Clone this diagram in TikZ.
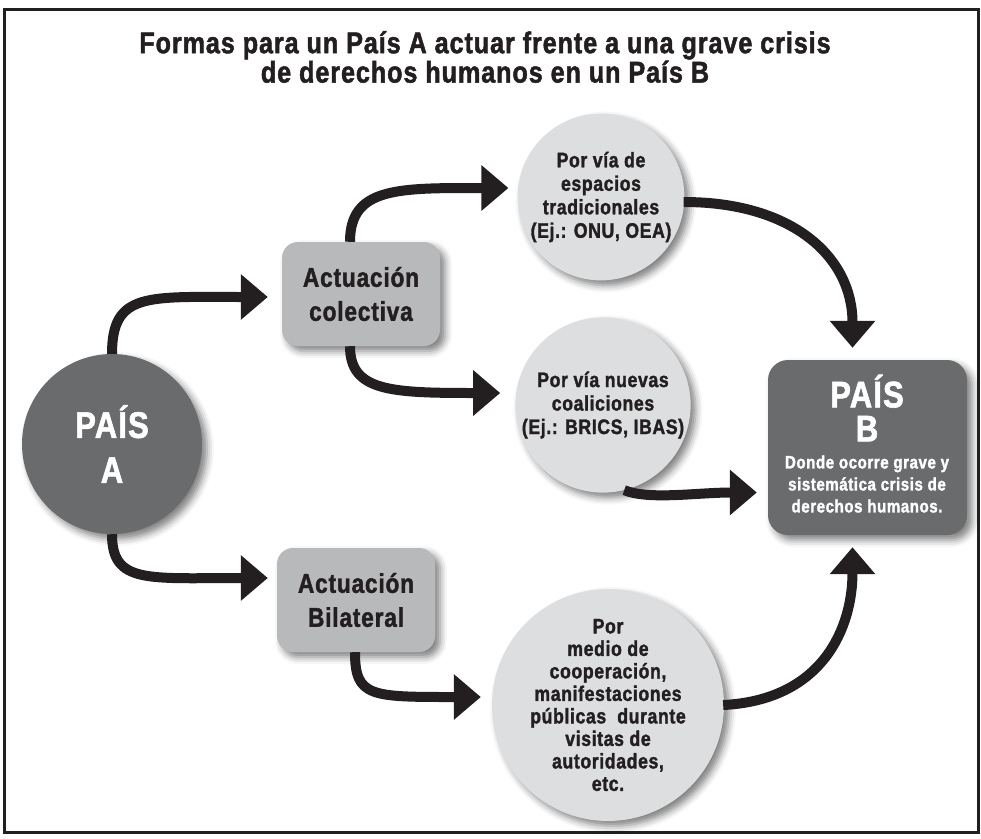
\documentclass[tikz,border=0pt]{standalone}
\usepackage{fontspec}
\setmainfont{Liberation Sans}[FakeStretch=0.84,BoldFeatures={FakeBold=1.6},LetterSpace=3]
\usetikzlibrary{arrows.meta,shadows.blur,calc}
\definecolor{dark}{HTML}{231F20}
\definecolor{pgray}{HTML}{6A6B6D}
\definecolor{mgray}{HTML}{B8B9BB}
\definecolor{lgray}{HTML}{DDDEE0}
\begin{document}
\begin{tikzpicture}[x=1pt,y=-1pt,
  shad/.style={blur shadow={shadow xshift=5pt,shadow yshift=-5pt,shadow blur radius=7pt,shadow opacity=50}},
  arr/.style={draw=dark,line width=10pt,-{Triangle[width=44pt,length=27pt]}},
  bigc/.style={circle,fill=pgray,minimum size=180pt,inner sep=0pt,shad,text=white,align=center,font=\bfseries\fontsize{37}{45}\selectfont},
  midbox/.style={rectangle,rounded corners=16pt,fill=mgray,shad,minimum width=158pt,minimum height=104pt,text=dark,align=center,font=\bfseries\fontsize{27}{34}\selectfont},
  lc/.style={circle,fill=lgray,inner sep=0pt,shad,text=dark,align=center,font=\bfseries\fontsize{21}{23.5}\selectfont},
  bbox/.style={rectangle,rounded corners=20pt,fill=pgray,shad,minimum width=199pt,minimum height=175pt},
  wt/.style={text=white,align=center,inner sep=0pt}
]
\useasboundingbox (0,0) rectangle (981,838);
\draw[line width=3pt,draw=dark] (4,9) rectangle (978,832);

\node[text=dark,align=center,font=\bfseries\fontsize{30}{27}\selectfont] (title) at (485,57)
  {Formas para un País A actuar frente a una grave crisis\\de derechos humanos en un País B};

\node[bigc] (A) at (112,444) {PAÍS\\A};
\node[midbox] (col) at (361,294) {Actuación\\colectiva};
\node[midbox] (bil) at (356,600) {Actuación\\Bilateral};
\node[lc,minimum size=164pt] (c1) at (601,197) {Por vía de\\espacios\\tradicionales\\(Ej.: ONU, OEA)};
\node[lc,minimum size=160pt] (c2) at (603,405) {Por vía nuevas\\coaliciones\\(Ej.: BRICS, IBAS)};
\node[lc,minimum size=182pt,font=\bfseries\fontsize{21}{22.5}\selectfont] (c3) at (608,705)
  {Por\\medio de\\cooperación,\\manifestaciones\\públicas\ \ durante\\visitas de\\autoridades,\\etc.};
\node[bbox] (B) at (867.5,447.5) {};
\node[wt,font=\bfseries\fontsize{37}{34}\selectfont] (Bt) at (867,408) {PAÍS\\B};
\node[wt,font=\bfseries\fontsize{18}{22}\selectfont] (Bs) at (867,484) {Donde ocorre grave y\\sistemática crisis de\\derechos humanos.};

\coordinate (tA1) at ($(col.west)+(-14,3)$);
\coordinate (tA2) at ($(bil.west)+(-9,-22)$);
\coordinate (tC1) at ($(c1.west)+(-9,-9)$);
\coordinate (tC2) at ($(c2.west)+(-15,-12)$);
\coordinate (tC3) at ($(c3.west)+(-11,-8)$);
\coordinate (tB1) at ($(B.north)+(-15,-12)$);
\coordinate (tB2) at ($(B.west)+(-11,45)$);
\coordinate (tB3) at ($(B.south)+(-15,12)$);

\draw[arr] (A.north) .. controls +(0,-62) and +(-120,0) .. (tA1);
\draw[arr] (A.south) .. controls +(0,50) and +(-120,0) .. (tA2);
\draw[arr] ($(col.north)+(-11,0)$) .. controls +(0,-55) and +(-110,0) .. (tC1);
\draw[arr] ($(col.south)+(-11,0)$) .. controls +(0,45) and +(-110,0) .. (tC2);
\draw[arr] ($(bil.south)+(-1,0)$) .. controls +(0,45) and +(-110,0) .. (tC3);
\draw[arr] ($(c1.east)+(-1,5)$) .. controls +(110,0) and +(0,-90) .. (tB1);
\draw[arr] (c2.-76) .. controls +(25,10) and +(-60,0) .. (tB2);
\draw[arr] ($(c3.east)+(-1,0)$) .. controls +(100,-5) and +(0,80) .. (tB3);
\end{tikzpicture}
\end{document}
